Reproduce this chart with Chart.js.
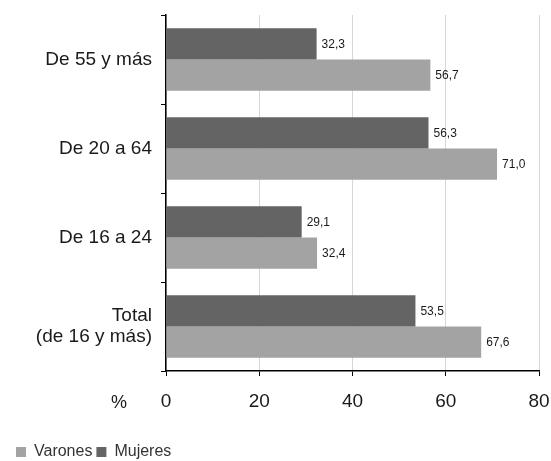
<!DOCTYPE html>
<html>
<head>
<meta charset="utf-8">
<script src="https://cdn.jsdelivr.net/npm/chart.js@4"></script>
<style>
  html, body { margin: 0; padding: 0; background: #fff; }
  #wrap { width: 551px; height: 461px; }
</style>
</head>
<body>
<div id="wrap"><canvas id="chart" width="551" height="461"></canvas></div>
<script>
// Tasa de actividad por grupo de edad y sexo (%)
const categories = ["De 55 y más", "De 20 a 64", "De 16 a 24", ["Total", "(de 16 y más)"]];
const mujeres = [32.3, 56.3, 29.1, 53.5];
const varones = [56.7, 71.0, 32.4, 67.6];
const xTicks = [0, 20, 40, 60, 80];
const seriesNames = ["Mujeres", "Varones"];

const FONT = "'Liberation Sans', Arial, sans-serif";

// Value labels at the end of each bar, with a decimal comma
const valueLabels = {
  id: "valueLabels",
  afterDatasetsDraw(chart) {
    const ctx = chart.ctx;
    ctx.save();
    ctx.font = "12px " + FONT;
    ctx.fillStyle = "#1a1a1a";
    ctx.textBaseline = "middle";
    ctx.textAlign = "left";
    chart.data.datasets.forEach((ds, i) => {
      chart.getDatasetMeta(i).data.forEach((bar, j) => {
        const txt = ds.data[j].toFixed(1).replace(".", ",");
        ctx.fillText(txt, bar.x + 5, bar.y + 1);
      });
    });
    ctx.restore();
  }
};

// "%" unit label left of the x-axis tick labels
const unitLabel = {
  id: "unitLabel",
  afterDraw(chart) {
    const ctx = chart.ctx;
    const xs = chart.scales.x;
    ctx.save();
    ctx.font = "18px " + FONT;
    ctx.fillStyle = "#1a1a1a";
    ctx.textAlign = "center";
    ctx.textBaseline = "middle";
    ctx.fillText("%", xs.left - 47, xs.top + 32);
    ctx.restore();
  }
};

new Chart(document.getElementById("chart"), {
  type: "bar",
  data: {
    labels: categories,
    datasets: [
      { label: seriesNames[0], data: mujeres, backgroundColor: "#646464" },
      { label: seriesNames[1], data: varones, backgroundColor: "#a3a3a3" }
    ]
  },
  options: {
    indexAxis: "y",
    responsive: false,
    animation: false,
    datasets: { bar: { categoryPercentage: 0.7, barPercentage: 1.0 } },
    layout: { padding: { left: 12, right: 12, top: 15, bottom: -9 } },
    plugins: {
      legend: {
        position: "bottom",
        align: "start",
        reverse: true,
        labels: {
          boxWidth: 10,
          boxHeight: 10,
          padding: 4,
          color: "#333",
          font: { family: FONT, size: 16 }
        }
      },
      tooltip: { enabled: false }
    },
    scales: {
      x: {
        min: 0,
        max: 80,
        afterBuildTicks(scale) { scale.ticks = xTicks.map(v => ({ value: v })); },
        afterFit(scale) {
          scale.height = 69;
          scale.paddingLeft = 0;
          scale.paddingRight = 0;
        },
        grid: { color: "#d6d6d6", tickColor: "#000", tickLength: 5, lineWidth: 1 },
        border: { color: "#000", width: 1.5 },
        ticks: { color: "#1a1a1a", padding: 14, font: { family: FONT, size: 19 } }
      },
      y: {
        afterFit(scale) {
          scale.width = 154;
          scale.paddingTop = 0;
          scale.paddingBottom = 0;
        },
        grid: { offset: true, drawOnChartArea: false, tickColor: "#000", tickLength: 5 },
        border: { color: "#000", width: 1.5 },
        ticks: { color: "#1a1a1a", padding: 9, font: { family: FONT, size: 19, lineHeight: 1.1 } }
      }
    }
  },
  plugins: [valueLabels, unitLabel]
});
</script>
</body>
</html>
